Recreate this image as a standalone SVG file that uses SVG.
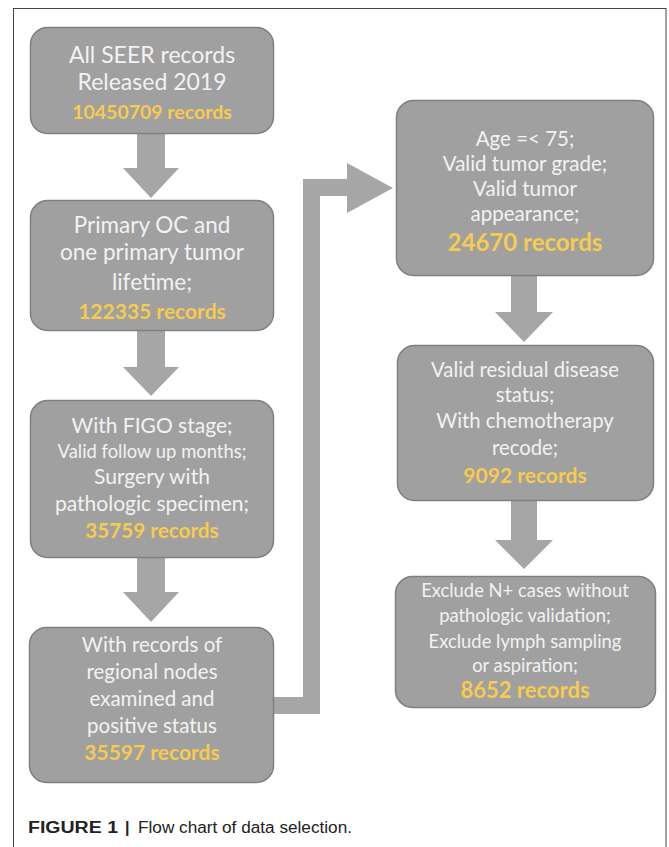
<svg xmlns="http://www.w3.org/2000/svg" width="669" height="847" viewBox="0 0 669 847">
<style>
.box{fill:#a0a0a0;stroke:#7f7f7f;stroke-width:1.5}
.arr{fill:#a6a6a6}
.t{font-family:Lato,"Open Sans","Liberation Sans",sans-serif;fill:#f2f2f2;text-anchor:middle}
.n{font-family:Lato,"Open Sans","Liberation Sans",sans-serif;fill:#f7cb4d;font-weight:bold;text-anchor:middle}
.cap{font-family:"Liberation Sans",Arial,sans-serif;fill:#222;font-size:16px}
</style>
<rect x="13.5" y="8.5" width="652.5" height="860" fill="#fff" stroke="#444" stroke-width="1"/>
<g id="connectors">
<polygon class="arr" points="137,133 165,133 165,168 179,168 151,198 123,168 137,168"/>
<polygon class="arr" points="137,330 165,330 165,367 179,367 151,396 123,367 137,367"/>
<polygon class="arr" points="137,557 165,557 165,592 179,592 151,622 123,592 137,592"/>
<polygon class="arr" points="273,697 303,697 303,179 347,179 347,163 393,188 347,213 347,196 320,196 320,714 273,714"/>
<polygon class="arr" points="511,275 537,275 537,312 553,312 524,342 495,312 511,312"/>
<polygon class="arr" points="511,500 537,500 537,540 553,540 524,569 495,540 511,540"/>
</g>
<g id="n1">
<rect class="box" x="30.5" y="27.5" width="243" height="106" rx="17"/>
<text class="t" x="152" y="63" font-size="23">All SEER records</text>
<text class="t" x="152" y="90" font-size="23">Released 2019</text>
<text class="n" x="152" y="119" font-size="19.5">10450709 records</text>
</g>
<g id="n2">
<rect class="box" x="30.5" y="200.5" width="243" height="130" rx="17"/>
<text class="t" x="152" y="233" font-size="22.5">Primary OC and</text>
<text class="t" x="152" y="260" font-size="22.5">one primary tumor</text>
<text class="t" x="152" y="290" font-size="22.5">lifetime;</text>
<text class="n" x="152" y="319" font-size="21">122335 records</text>
</g>
<g id="n3">
<rect class="box" x="30.5" y="400.5" width="243" height="157" rx="17"/>
<text class="t" x="152" y="433" font-size="21">With FIGO stage;</text>
<text class="t" x="152" y="458" font-size="18.4">Valid follow up months;</text>
<text class="t" x="152" y="484" font-size="21">Surgery with</text>
<text class="t" x="152" y="511" font-size="21">pathologic specimen;</text>
<text class="n" x="152" y="538" font-size="20.7">35759 records</text>
</g>
<g id="n4">
<rect class="box" x="29.5" y="627.5" width="244" height="155" rx="17"/>
<text class="t" x="152" y="652" font-size="20.5">With records of</text>
<text class="t" x="152" y="679" font-size="20.5">regional nodes</text>
<text class="t" x="152" y="706" font-size="20.5">examined and</text>
<text class="t" x="152" y="733" font-size="20.5">positive status</text>
<text class="n" x="152" y="760" font-size="21">35597 records</text>
</g>
<g id="n5">
<rect class="box" x="396.5" y="100.5" width="257" height="175" rx="17"/>
<text class="t" x="525" y="146" font-size="20.5">Age =&lt; 75;</text>
<text class="t" x="525" y="171" font-size="20.5">Valid tumor grade;</text>
<text class="t" x="525" y="196" font-size="20.5">Valid tumor</text>
<text class="t" x="525" y="221" font-size="20.5">appearance;</text>
<text class="n" x="525" y="251" font-size="24">24670 records</text>
</g>
<g id="n6">
<rect class="box" x="397.5" y="345.5" width="256" height="155" rx="17"/>
<text class="t" x="525" y="377" font-size="20.3">Valid residual disease</text>
<text class="t" x="525" y="402" font-size="20.3">status;</text>
<text class="t" x="525" y="428" font-size="20.3">With chemotherapy</text>
<text class="t" x="525" y="455" font-size="20.3">recode;</text>
<text class="n" x="525" y="483" font-size="21">9092 records</text>
</g>
<g id="n7">
<rect class="box" x="395.5" y="576.5" width="260" height="131" rx="17"/>
<text class="t" x="525" y="597" font-size="18.4">Exclude N+ cases without</text>
<text class="t" x="525" y="622" font-size="18.4">pathologic validation;</text>
<text class="t" x="525" y="648" font-size="18.4">Exclude lymph sampling</text>
<text class="t" x="525" y="672" font-size="18.4">or aspiration;</text>
<text class="n" x="525" y="698" font-size="22">8652 records</text>
</g>
<g id="caption">
<text class="cap" x="28" y="833" font-weight="bold" textLength="90" lengthAdjust="spacingAndGlyphs">FIGURE 1</text>
<text class="cap" x="125" y="833" font-weight="bold">|</text>
<text class="cap" x="138" y="833" textLength="214" lengthAdjust="spacingAndGlyphs">Flow chart of data selection.</text>
</g>
</svg>
